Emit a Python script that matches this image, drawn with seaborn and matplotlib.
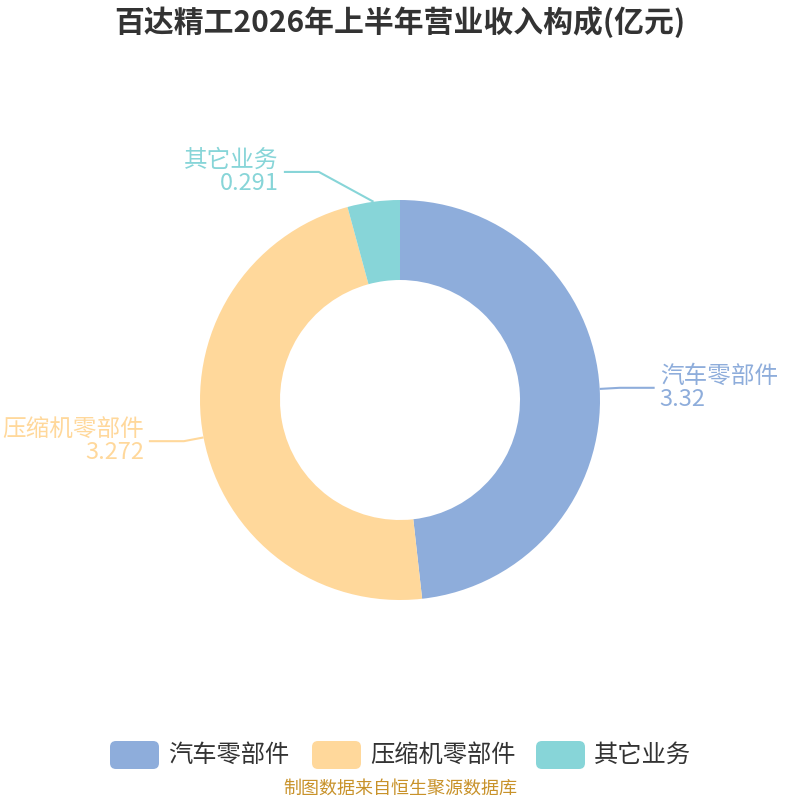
import numpy as np
import matplotlib.pyplot as plt
import seaborn as sns
from matplotlib.patches import FancyBboxPatch

sns.set_theme(style="white")
plt.rcParams['font.family'] = ['Noto Sans CJK SC', 'DejaVu Sans']

# data
categories = ['汽车零部件', '压缩机零部件', '其它业务']
values = [3.32, 3.272, 0.291]
value_labels = ['3.32', '3.272', '0.291']
colors = ['#8EADDB', '#FFD89B', '#87D5D8']
title = '百达精工2026年上半年营业收入构成(亿元)'
source = '制图数据来自恒生聚源数据库'

fig = plt.figure(figsize=(8, 8), dpi=100)
ax = fig.add_axes([0, 0, 1, 1])

cx, cy, r_out, r_in = 400, 400, 200, 120

# y axis is flipped below, so counterclock=True ends up clockwise on screen
wedges, _ = ax.pie(values, colors=colors, startangle=-90, counterclock=True,
                   radius=r_out, center=(cx, cy), frame=True,
                   wedgeprops=dict(width=r_out - r_in, linewidth=0))
ax.set_xlim(0, 800)
ax.set_ylim(800, 0)
ax.set_aspect('equal')
ax.axis('off')

# label lines
total = sum(values)
start = 90.0
extra_shift = [0, 0, -52]
extra_dy = [0, 0, -10]
for i, (cat, v, vl, c) in enumerate(zip(categories, values, value_labels, colors)):
    span = v / total * 360
    mid = np.deg2rad(start - span / 2)
    start -= span
    x0 = cx + r_out * np.cos(mid)
    y0 = cy - r_out * np.sin(mid)
    x1 = cx + (r_out + 20) * np.cos(mid) + extra_shift[i]
    y1 = cy - (r_out + 20) * np.sin(mid) + extra_dy[i]
    side = 1 if np.cos(mid) >= 0 else -1
    x2 = x1 + side * 35
    ax.plot([x0, x1, x2], [y0, y1, y1], color=c, lw=1.5, solid_capstyle='butt')
    ha = 'left' if side > 0 else 'right'
    tx = x2 + side * 5
    ax.text(tx, y1, cat + '\n' + vl, color=c, fontsize=17, ha=ha,
            va='center', ma=ha, linespacing=0.98)

ax.text(400, 22, title, fontsize=21.5, fontweight='bold', color='#333333',
        ha='center', va='center')

# legend
leg_x = [110, 312, 536]
for i, (cat, c) in enumerate(zip(categories, colors)):
    box = FancyBboxPatch((leg_x[i], 741), 49, 28,
                         boxstyle='round,pad=0,rounding_size=6',
                         fc=c, ec='none')
    ax.add_patch(box)
    ax.text(leg_x[i] + 58, 755, cat, fontsize=17.5, color='#333333',
            ha='left', va='center')

ax.text(400, 789, source, fontsize=13, color='#C8922A', ha='center', va='center')

fig.savefig('out.png', dpi=100)
